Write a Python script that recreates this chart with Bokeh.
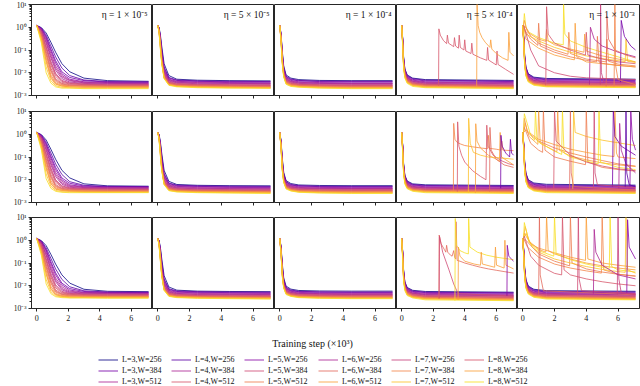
from bokeh.plotting import figure
from bokeh.layouts import column, row
from bokeh.models import (Label, Legend, LegendItem, CustomJSTickFormatter,
                          FixedTicker, Range1d, ColumnDataSource)
from bokeh.palettes import Plasma256
from bokeh.embed import file_html
from bokeh.resources import INLINE

# ---------------------------------------------------------------- data
LAYERS = [3, 4, 5, 6, 7, 8]
WIDTHS = [256, 384, 512]
CONFIGS = [f"L={l},W={w}" for l in LAYERS for w in WIDTHS]
PRECISIONS = ["FP32 MSE loss", "MX FP8 MSE loss", "MX FP6 E2M3 MSE loss"]
LEARNING_RATES = ["η = 1 × 10⁻⁵", "η = 5 × 10⁻⁵", "η = 1 × 10⁻⁴",
                  "η = 5 × 10⁻⁴", "η = 1 × 10⁻³"]
X_LABEL = "Training step (×10³)"
X_TICKS = [0, 2, 4, 6]
Y_TICKS = [1e-3, 1e-2, 1e-1, 1e0, 1e1]

# the run of each row of every loss table below (highest final loss first)
RUN_CONFIG = ["L=3,W=256", "L=4,W=256", "L=5,W=256", "L=3,W=384", "L=3,W=512", "L=6,W=256",
              "L=4,W=384", "L=7,W=256", "L=4,W=512", "L=5,W=384", "L=8,W=256", "L=5,W=512",
              "L=6,W=384", "L=7,W=384", "L=8,W=384", "L=6,W=512", "L=7,W=512", "L=8,W=512"]

STEPS_SLOW = [0, 0.3, 0.6, 0.9, 1.2, 1.6, 2.1, 3.0, 4.5, 7.1]
STEPS_FAST = [0, 0.08, 0.16, 0.25, 0.4, 0.7, 1.2, 2.5, 4.5, 7.1]
STEPS_DROP = [0, 0.06, 0.12, 0.2, 0.35, 0.7, 1.5, 7.1]

FP32_LR1E5 = [
    [1.2, .96, .56, .22, .08, .025, .011, .0058, .0045, .0042],
    [1.2, .92, .45, .15, .05, .016, .0075, .0048, .0041, .0040],
    [1.2, .85, .33, .09, .027, .009, .0052, .0040, .0037, .0036],
    [1.2, .88, .38, .11, .034, .011, .0062, .0045, .0039, .0038],
    [1.2, .8, .28, .07, .02, .0075, .0047, .0038, .0035, .0034],
    [1.2, .72, .2, .045, .013, .0055, .0039, .0034, .0032, .0031],
    [1.2, .75, .23, .055, .016, .0065, .0044, .0036, .0034, .0033],
    [1.2, .65, .15, .032, .0095, .0046, .0036, .0032, .0030, .0030],
    [1.2, .58, .11, .022, .007, .0038, .0032, .0030, .0028, .0028],
    [1.2, .6, .13, .027, .0085, .0042, .0034, .0031, .0029, .0029],
    [1.2, .5, .085, .016, .0055, .0034, .0030, .0028, .0027, .0027],
    [1.2, .42, .06, .011, .0042, .0030, .0027, .0026, .0025, .0025],
    [1.2, .45, .07, .013, .0048, .0032, .0028, .0027, .0026, .0026],
    [1.2, .36, .045, .008, .0036, .0028, .0026, .0025, .0024, .0024],
    [1.2, .3, .03, .0058, .0031, .0026, .0024, .0023, .0023, .0023],
    [1.2, .32, .035, .0065, .0033, .0026, .0024, .0023, .0023, .0023],
    [1.2, .25, .018, .0045, .0027, .0023, .0022, .0021, .0021, .0021],
    [1.2, .2, .01, .0035, .0024, .0021, .0021, .0020, .0020, .0020],
]
MXFP8_LR1E5 = [
    [1.2, .96, .56, .22, .08, .026, .012, .0066, .0054, .0052],
    [1.2, .92, .45, .15, .05, .017, .0082, .0057, .0051, .0050],
    [1.2, .85, .33, .09, .028, .010, .0060, .0049, .0047, .0046],
    [1.2, .88, .38, .11, .035, .012, .0070, .0053, .0049, .0048],
    [1.2, .8, .28, .07, .021, .0085, .0055, .0047, .0045, .0044],
    [1.2, .72, .2, .045, .014, .0063, .0047, .0042, .0041, .0040],
    [1.2, .75, .23, .055, .017, .0072, .0051, .0045, .0043, .0042],
    [1.2, .65, .15, .033, .010, .0054, .0044, .0041, .0040, .0039],
    [1.2, .58, .11, .023, .0078, .0046, .0040, .0037, .0036, .0036],
    [1.2, .6, .13, .028, .0092, .0050, .0042, .0039, .0038, .0037],
    [1.2, .5, .085, .017, .0062, .0042, .0038, .0036, .0035, .0035],
    [1.2, .42, .06, .012, .0050, .0038, .0034, .0033, .0032, .0032],
    [1.2, .45, .07, .014, .0055, .0040, .0036, .0035, .0034, .0034],
    [1.2, .36, .045, .009, .0044, .0036, .0033, .0032, .0031, .0031],
    [1.2, .3, .03, .0066, .0038, .0033, .0031, .0030, .0029, .0029],
    [1.2, .32, .035, .0072, .0040, .0034, .0032, .0031, .0030, .0030],
    [1.2, .25, .018, .0052, .0034, .0030, .0029, .0028, .0028, .0028],
    [1.2, .2, .011, .0042, .0031, .0028, .0027, .0027, .0027, .0027],
]
MXFP6_LR1E5 = [
    [1.2, .96, .58, .24, .09, .03, .013, .007, .0057, .0055],
    [1.2, .92, .46, .16, .055, .019, .009, .0060, .0053, .0052],
    [1.2, .86, .34, .095, .03, .011, .0065, .0051, .0049, .0048],
    [1.2, .88, .39, .115, .037, .013, .0075, .0056, .0051, .0050],
    [1.2, .8, .29, .073, .022, .0090, .0058, .0049, .0047, .0046],
    [1.2, .73, .21, .047, .015, .0066, .0049, .0044, .0043, .0042],
    [1.2, .76, .24, .057, .018, .0075, .0053, .0047, .0045, .0044],
    [1.2, .66, .16, .035, .011, .0057, .0046, .0043, .0042, .0041],
    [1.2, .59, .12, .024, .0082, .0048, .0042, .0039, .0038, .0038],
    [1.2, .61, .135, .029, .0096, .0052, .0044, .0041, .0040, .0039],
    [1.2, .51, .09, .018, .0066, .0044, .0040, .0038, .0037, .0036],
    [1.2, .43, .062, .013, .0053, .0040, .0036, .0035, .0034, .0034],
    [1.2, .46, .072, .015, .0058, .0042, .0038, .0036, .0035, .0035],
    [1.2, .37, .047, .0095, .0046, .0037, .0035, .0034, .0033, .0033],
    [1.2, .31, .032, .007, .0040, .0034, .0032, .0031, .0031, .0031],
    [1.2, .33, .036, .0076, .0042, .0035, .0033, .0032, .0032, .0032],
    [1.2, .26, .019, .0055, .0036, .0032, .0030, .0030, .0030, .0030],
    [1.2, .21, .012, .0045, .0033, .0030, .0029, .0029, .0028, .0028],
]

FP32_LR5E5 = [
    [1.2, 1.0, .5, .15, .025, .0075, .0052, .0047, .0045, .0044],
    [1.2, .95, .42, .11, .018, .0062, .0048, .0044, .0042, .0041],
    [1.2, .9, .35, .08, .013, .0052, .0042, .0039, .0037, .0036],
    [1.2, .92, .38, .095, .016, .0058, .0046, .0042, .0040, .0039],
    [1.2, .88, .32, .07, .012, .0049, .0040, .0037, .0035, .0034],
    [1.2, .85, .28, .055, .0095, .0043, .0036, .0033, .0032, .0031],
    [1.2, .86, .3, .06, .011, .0046, .0038, .0035, .0034, .0033],
    [1.2, .82, .26, .048, .0088, .0040, .0034, .0031, .0030, .0029],
    [1.2, .78, .23, .042, .0078, .0037, .0031, .0029, .0028, .0027],
    [1.2, .8, .24, .045, .0082, .0038, .0032, .0030, .0029, .0028],
    [1.2, .76, .21, .038, .0072, .0035, .0030, .0028, .0027, .0026],
    [1.2, .72, .18, .034, .0066, .0032, .0028, .0026, .0025, .0024],
    [1.2, .74, .2, .036, .0069, .0034, .0029, .0027, .0026, .0025],
    [1.2, .7, .17, .032, .0063, .0031, .0027, .0025, .0024, .0023],
    [1.2, .66, .15, .029, .0060, .0030, .0026, .0024, .0023, .0022],
    [1.2, .68, .16, .03, .0061, .0030, .0026, .0024, .0023, .0022],
    [1.2, .63, .13, .027, .0057, .0029, .0025, .0023, .0022, .0021],
    [1.2, .6, .12, .025, .0055, .0028, .0024, .0022, .0021, .0021],
]
MXFP8_LR5E5 = [
    [1.2, 1.0, .5, .15, .026, .0085, .0062, .0057, .0055, .0054],
    [1.2, .95, .42, .11, .019, .0072, .0058, .0054, .0052, .0051],
    [1.2, .9, .35, .08, .014, .0062, .0051, .0048, .0046, .0045],
    [1.2, .92, .38, .095, .017, .0068, .0055, .0051, .0049, .0048],
    [1.2, .88, .32, .07, .013, .0058, .0048, .0045, .0043, .0042],
    [1.2, .85, .28, .055, .010, .0051, .0043, .0040, .0039, .0038],
    [1.2, .86, .3, .06, .012, .0054, .0045, .0042, .0041, .0040],
    [1.2, .82, .26, .048, .0095, .0048, .0041, .0038, .0037, .0036],
    [1.2, .78, .23, .042, .0085, .0044, .0038, .0035, .0034, .0033],
    [1.2, .8, .24, .045, .0089, .0046, .0039, .0036, .0035, .0034],
    [1.2, .76, .21, .038, .0079, .0042, .0036, .0034, .0033, .0032],
    [1.2, .72, .18, .034, .0072, .0039, .0034, .0032, .0031, .0030],
    [1.2, .74, .2, .036, .0075, .0040, .0035, .0033, .0032, .0031],
    [1.2, .7, .17, .032, .0069, .0037, .0033, .0031, .0030, .0029],
    [1.2, .66, .15, .029, .0065, .0035, .0031, .0029, .0028, .0027],
    [1.2, .68, .16, .03, .0067, .0036, .0032, .0030, .0029, .0028],
    [1.2, .63, .13, .027, .0062, .0034, .0030, .0028, .0027, .0026],
    [1.2, .6, .12, .025, .0060, .0033, .0029, .0027, .0026, .0025],
]
MXFP6_LR5E5 = [
    [1.2, 1.0, .52, .16, .028, .0088, .0064, .0058, .0056, .0055],
    [1.2, .96, .43, .115, .02, .0074, .0059, .0055, .0053, .0052],
    [1.2, .9, .36, .082, .015, .0063, .0052, .0049, .0047, .0046],
    [1.2, .93, .39, .097, .018, .0069, .0056, .0052, .0050, .0049],
    [1.2, .88, .33, .072, .013, .0059, .0049, .0046, .0044, .0043],
    [1.2, .85, .29, .057, .011, .0052, .0044, .0041, .0040, .0039],
    [1.2, .87, .31, .062, .012, .0055, .0046, .0043, .0042, .0041],
    [1.2, .82, .27, .05, .0098, .0049, .0042, .0039, .0038, .0037],
    [1.2, .79, .24, .043, .0087, .0045, .0039, .0036, .0035, .0034],
    [1.2, .8, .25, .046, .0091, .0047, .0040, .0037, .0036, .0035],
    [1.2, .77, .22, .039, .0081, .0043, .0037, .0035, .0034, .0033],
    [1.2, .73, .19, .035, .0074, .0040, .0035, .0033, .0032, .0031],
    [1.2, .75, .21, .037, .0077, .0041, .0036, .0034, .0033, .0032],
    [1.2, .71, .18, .033, .0071, .0038, .0034, .0032, .0031, .0030],
    [1.2, .67, .16, .03, .0067, .0036, .0032, .0030, .0029, .0028],
    [1.2, .69, .17, .031, .0069, .0037, .0033, .0031, .0030, .0029],
    [1.2, .64, .14, .028, .0064, .0035, .0031, .0029, .0028, .0027],
    [1.2, .61, .13, .026, .0062, .0034, .0030, .0028, .0027, .0026],
]

FP32_LR1E4 = [
    [1.2, .55, .09, .02, .008, .0058, .005, .0046, .0045, .0045],
    [1.2, .5, .075, .017, .007, .0053, .0046, .0043, .0042, .0042],
    [1.2, .45, .06, .014, .006, .0046, .0040, .0037, .0036, .0036],
    [1.2, .48, .068, .016, .0066, .005, .0044, .0041, .0040, .0040],
    [1.2, .43, .055, .013, .0056, .0043, .0038, .0035, .0034, .0034],
    [1.2, .4, .048, .011, .005, .0039, .0034, .0032, .0031, .0031],
    [1.2, .41, .05, .012, .0053, .0041, .0036, .0034, .0033, .0033],
    [1.2, .38, .044, .010, .0047, .0037, .0032, .0030, .0029, .0029],
    [1.2, .35, .04, .0095, .0043, .0034, .0030, .0028, .0027, .0027],
    [1.2, .36, .042, .0098, .0045, .0035, .0031, .0029, .0028, .0028],
    [1.2, .33, .037, .009, .0041, .0032, .0029, .0027, .0026, .0026],
    [1.2, .3, .033, .0082, .0038, .0030, .0027, .0025, .0024, .0024],
    [1.2, .31, .035, .0085, .0039, .0031, .0028, .0026, .0025, .0025],
    [1.2, .29, .031, .0078, .0036, .0029, .0026, .0024, .0023, .0023],
    [1.2, .27, .028, .0072, .0034, .0028, .0025, .0023, .0022, .0022],
    [1.2, .28, .029, .0074, .0035, .0028, .0025, .0023, .0022, .0022],
    [1.2, .26, .026, .0068, .0032, .0026, .0024, .0022, .0021, .0021],
    [1.2, .24, .024, .0064, .0031, .0025, .0023, .0021, .0020, .0020],
]
MXFP8_LR1E4 = [
    [1.2, .55, .09, .021, .0092, .0068, .0059, .0056, .0055, .0055],
    [1.2, .5, .075, .018, .0082, .0062, .0055, .0052, .0051, .0051],
    [1.2, .45, .06, .015, .0071, .0055, .0049, .0046, .0045, .0045],
    [1.2, .48, .068, .017, .0077, .0059, .0053, .0050, .0049, .0049],
    [1.2, .43, .055, .014, .0066, .0052, .0046, .0043, .0042, .0042],
    [1.2, .4, .048, .012, .0060, .0047, .0042, .0040, .0039, .0039],
    [1.2, .41, .05, .013, .0063, .0049, .0044, .0042, .0041, .0041],
    [1.2, .38, .044, .011, .0057, .0045, .0040, .0038, .0037, .0037],
    [1.2, .35, .04, .0105, .0053, .0042, .0037, .0035, .0034, .0034],
    [1.2, .36, .042, .0108, .0055, .0043, .0038, .0036, .0035, .0035],
    [1.2, .33, .037, .010, .0051, .0040, .0036, .0034, .0033, .0033],
    [1.2, .3, .033, .0092, .0047, .0037, .0033, .0031, .0030, .0030],
    [1.2, .31, .035, .0095, .0049, .0038, .0034, .0032, .0031, .0031],
    [1.2, .29, .031, .0088, .0045, .0036, .0032, .0030, .0029, .0029],
    [1.2, .27, .028, .0082, .0043, .0034, .0030, .0028, .0027, .0027],
    [1.2, .28, .029, .0084, .0044, .0035, .0031, .0029, .0028, .0028],
    [1.2, .26, .026, .0078, .0041, .0033, .0029, .0027, .0026, .0026],
    [1.2, .24, .024, .0074, .0039, .0032, .0028, .0026, .0025, .0025],
]
MXFP6_LR1E4 = [
    [1.2, .56, .095, .022, .0096, .0071, .0062, .0059, .0058, .0058],
    [1.2, .51, .078, .019, .0085, .0065, .0057, .0054, .0053, .0053],
    [1.2, .46, .062, .016, .0074, .0057, .0051, .0048, .0047, .0047],
    [1.2, .49, .07, .0175, .0080, .0061, .0055, .0052, .0051, .0051],
    [1.2, .44, .057, .0145, .0069, .0054, .0048, .0045, .0044, .0044],
    [1.2, .41, .05, .0125, .0062, .0049, .0044, .0042, .0041, .0041],
    [1.2, .42, .052, .0135, .0065, .0051, .0046, .0044, .0043, .0043],
    [1.2, .39, .046, .0115, .0059, .0047, .0042, .0040, .0039, .0039],
    [1.2, .36, .041, .011, .0055, .0044, .0039, .0037, .0036, .0036],
    [1.2, .37, .043, .0112, .0057, .0045, .0040, .0038, .0037, .0037],
    [1.2, .34, .038, .0104, .0053, .0042, .0038, .0036, .0035, .0035],
    [1.2, .31, .034, .0095, .0049, .0039, .0035, .0033, .0032, .0032],
    [1.2, .32, .036, .0098, .0051, .0040, .0036, .0034, .0033, .0033],
    [1.2, .3, .032, .0091, .0047, .0038, .0034, .0032, .0031, .0031],
    [1.2, .28, .029, .0085, .0045, .0036, .0032, .0030, .0029, .0029],
    [1.2, .29, .030, .0087, .0046, .0037, .0033, .0031, .0030, .0030],
    [1.2, .27, .027, .0081, .0043, .0035, .0031, .0029, .0028, .0028],
    [1.2, .25, .025, .0077, .0041, .0034, .0030, .0028, .0027, .0027],
]

FP32_LR5E4 = [
    [1.2, .35, .05, .015, .0080, .0058, .0050, .0046],
    [1.2, .33, .046, .014, .0075, .0055, .0047, .0043],
    [1.2, .3, .04, .012, .0065, .0047, .0040, .0037],
    [1.2, .32, .044, .013, .0070, .0051, .0044, .0041],
    [1.2, .29, .038, .0115, .0062, .0044, .0038, .0035],
    [1.2, .27, .034, .0105, .0056, .0040, .0034, .0031],
    [1.2, .28, .036, .011, .0059, .0042, .0036, .0033],
    [1.2, .26, .032, .010, .0053, .0038, .0032, .0029],
    [1.2, .24, .029, .0092, .0049, .0035, .0030, .0027],
    [1.2, .25, .030, .0095, .0051, .0036, .0031, .0028],
    [1.2, .23, .027, .0088, .0047, .0033, .0029, .0026],
    [1.2, .21, .024, .0080, .0043, .0031, .0027, .0024],
    [1.2, .22, .025, .0083, .0044, .0032, .0028, .0025],
    [1.2, .2, .022, .0076, .0041, .0030, .0026, .0023],
    [1.2, .18, .02, .0070, .0038, .0028, .0024, .0022],
    [1.2, .19, .021, .0072, .0039, .0029, .0025, .0022],
    [1.2, .17, .018, .0064, .0036, .0027, .0023, .0021],
    [1.2, .15, .016, .0058, .0034, .0025, .0022, .0020],
]
MXFP8_LR5E4 = [
    [1.2, .36, .052, .016, .0088, .0066, .0060, .0056],
    [1.2, .34, .048, .015, .0083, .0062, .0056, .0053],
    [1.2, .31, .042, .013, .0072, .0055, .0049, .0046],
    [1.2, .33, .046, .014, .0078, .0059, .0053, .0050],
    [1.2, .3, .04, .0122, .0068, .0051, .0046, .0043],
    [1.2, .28, .036, .0112, .0062, .0047, .0042, .0039],
    [1.2, .29, .038, .0117, .0065, .0049, .0044, .0041],
    [1.2, .27, .034, .0107, .0059, .0045, .0040, .0037],
    [1.2, .25, .031, .0098, .0055, .0042, .0037, .0034],
    [1.2, .26, .032, .0101, .0057, .0043, .0038, .0035],
    [1.2, .24, .029, .0094, .0053, .0040, .0036, .0033],
    [1.2, .22, .026, .0086, .0049, .0037, .0033, .0030],
    [1.2, .23, .027, .0089, .0050, .0038, .0034, .0031],
    [1.2, .21, .024, .0082, .0047, .0036, .0032, .0029],
    [1.2, .19, .022, .0076, .0044, .0034, .0030, .0027],
    [1.2, .2, .023, .0078, .0045, .0035, .0031, .0028],
    [1.2, .18, .020, .0070, .0042, .0033, .0029, .0026],
    [1.2, .16, .018, .0064, .0040, .0031, .0027, .0025],
]
MXFP6_LR5E4 = [
    [1.2, .35, .05, .015, .0084, .0063, .0056, .0052],
    [1.2, .33, .046, .014, .0079, .0059, .0052, .0049],
    [1.2, .3, .04, .0124, .0069, .0052, .0046, .0043],
    [1.2, .32, .044, .0133, .0074, .0056, .0050, .0047],
    [1.2, .29, .038, .0116, .0065, .0049, .0043, .0040],
    [1.2, .27, .034, .0106, .0059, .0045, .0039, .0036],
    [1.2, .28, .036, .0111, .0062, .0047, .0041, .0038],
    [1.2, .26, .032, .0101, .0056, .0043, .0037, .0034],
    [1.2, .24, .029, .0093, .0052, .0040, .0034, .0031],
    [1.2, .25, .030, .0096, .0054, .0041, .0035, .0032],
    [1.2, .23, .027, .0089, .0050, .0038, .0033, .0030],
    [1.2, .21, .024, .0082, .0046, .0035, .0030, .0027],
    [1.2, .22, .025, .0085, .0047, .0036, .0031, .0028],
    [1.2, .2, .022, .0078, .0044, .0034, .0029, .0026],
    [1.2, .18, .020, .0072, .0041, .0032, .0027, .0024],
    [1.2, .19, .021, .0074, .0042, .0033, .0028, .0025],
    [1.2, .17, .018, .0066, .0039, .0031, .0026, .0023],
    [1.2, .15, .016, .0060, .0037, .0029, .0024, .0022],
]

FP32_LR1E3 = [
    [1.2, .4, .06, .018, .009, .0064, .0056, .0052],
    [1.2, .38, .055, .017, .0085, .0060, .0052, .0048],
    [1.2, .34, .047, .014, .0073, .0052, .0045, .0041],
    [1.2, .36, .051, .0155, .0079, .0056, .0049, .0045],
    [1.2, .32, .044, .0132, .0068, .0048, .0042, .0038],
    [1.2, .3, .040, .0122, .0062, .0044, .0038, .0034],
    [1.2, .31, .042, .0127, .0065, .0046, .0040, .0036],
    [1.2, .29, .037, .0115, .0059, .0042, .0036, .0032],
    [1.2, .27, .034, .0106, .0055, .0039, .0033, .0030],
    [1.2, .28, .035, .0110, .0057, .0040, .0034, .0031],
    [1.2, .26, .032, .0101, .0052, .0037, .0032, .0029],
    [1.2, .24, .029, .0093, .0048, .0034, .0029, .0026],
    [1.2, .25, .030, .0096, .0050, .0035, .0030, .0027],
    [1.2, .23, .027, .0089, .0046, .0033, .0028, .0025],
    [1.2, .21, .025, .0082, .0043, .0031, .0026, .0024],
    [1.2, .22, .026, .0085, .0044, .0032, .0027, .0024],
    [1.2, .2, .023, .0077, .0041, .0030, .0025, .0023],
    [1.2, .18, .021, .0071, .0039, .0028, .0024, .0022],
]
MXFP8_LR1E3 = [
    [1.2, .42, .065, .02, .0100, .0072, .0063, .0058],
    [1.2, .4, .06, .018, .0094, .0067, .0058, .0054],
    [1.2, .36, .051, .0155, .0081, .0058, .0050, .0046],
    [1.2, .38, .055, .017, .0087, .0062, .0054, .0050],
    [1.2, .34, .047, .0145, .0075, .0054, .0047, .0043],
    [1.2, .32, .043, .0134, .0069, .0049, .0043, .0039],
    [1.2, .33, .045, .0139, .0072, .0051, .0045, .0041],
    [1.2, .31, .040, .0126, .0065, .0047, .0041, .0037],
    [1.2, .29, .037, .0117, .0061, .0044, .0038, .0034],
    [1.2, .3, .038, .0121, .0063, .0045, .0039, .0035],
    [1.2, .28, .035, .0111, .0058, .0042, .0036, .0033],
    [1.2, .26, .032, .0102, .0054, .0039, .0033, .0030],
    [1.2, .27, .033, .0105, .0056, .0040, .0034, .0031],
    [1.2, .25, .030, .0098, .0052, .0038, .0032, .0029],
    [1.2, .23, .027, .0090, .0048, .0035, .0030, .0027],
    [1.2, .24, .028, .0093, .0049, .0036, .0031, .0028],
    [1.2, .22, .025, .0085, .0046, .0034, .0029, .0026],
    [1.2, .2, .023, .0078, .0044, .0032, .0027, .0025],
]
MXFP6_LR1E3 = [
    [1.2, .41, .063, .019, .0097, .0070, .0061, .0057],
    [1.2, .39, .058, .0175, .0091, .0065, .0057, .0053],
    [1.2, .35, .05, .015, .0079, .0057, .0049, .0045],
    [1.2, .37, .054, .0165, .0085, .0061, .0053, .0049],
    [1.2, .33, .046, .014, .0073, .0053, .0046, .0042],
    [1.2, .31, .042, .013, .0067, .0048, .0042, .0038],
    [1.2, .32, .044, .0135, .0070, .0050, .0044, .0040],
    [1.2, .3, .039, .0122, .0064, .0046, .0040, .0036],
    [1.2, .28, .036, .0113, .0060, .0043, .0037, .0033],
    [1.2, .29, .037, .0117, .0062, .0044, .0038, .0034],
    [1.2, .27, .034, .0108, .0057, .0041, .0035, .0032],
    [1.2, .25, .031, .0099, .0053, .0038, .0032, .0029],
    [1.2, .26, .032, .0102, .0055, .0039, .0033, .0030],
    [1.2, .24, .029, .0095, .0051, .0037, .0031, .0028],
    [1.2, .22, .026, .0088, .0047, .0034, .0029, .0026],
    [1.2, .23, .027, .0091, .0048, .0035, .0030, .0027],
    [1.2, .21, .024, .0083, .0045, .0033, .0028, .0025],
    [1.2, .19, .022, .0076, .0043, .0031, .0026, .0024],
]

# diverging runs: (config, [(step, loss), ...])
FP32_LR5E4_DIVERGED = [
    ("L=8,W=256", [(2.34, .0027), (2.36, .85), (2.45, .45), (2.65, .26), (2.85, .19), (2.9, .45),
                   (2.97, .2), (3.3, .14), (3.35, .35), (3.42, .15), (3.6, .12), (3.65, .45),
                   (3.72, .13), (3.95, .1), (4.0, .28), (4.07, .09), (4.4, .07), (4.45, .2),
                   (4.52, .065), (5.0, .045), (5.4, .035), (5.45, .13), (5.52, .036), (6.0, .022),
                   (6.05, .09), (6.12, .023), (6.6, .014), (7.1, .0085)]),
    ("L=8,W=384", [(4.76, .0024), (4.78, 15.0), (4.85, 1.2), (4.95, .6), (5.1, .35), (5.3, .22),
                   (5.6, .13), (5.65, .28), (5.72, .11), (6.0, .07), (6.4, .045), (6.75, .035),
                   (6.8, .6), (6.87, .08), (7.1, .055)]),
]
MXFP8_LR5E4_DIVERGED = [
    ("L=7,W=384", [(3.28, .0032), (3.3, 3.0), (3.38, .6), (3.5, .45), (3.7, .38), (4.0, .32),
                   (4.5, .28), (5.0, .25), (5.45, .23), (5.5, .9), (5.57, .24), (6.0, .22),
                   (6.3, .2), (6.35, .5), (6.42, .2), (7.1, .19)]),
    ("L=8,W=256", [(3.53, .003), (3.55, 3.5), (3.63, .3), (3.8, .12), (4.0, .06), (4.5, .025),
                   (5.0, .014), (5.35, .01), (5.4, 2.5), (5.48, .3), (5.8, .12), (6.3, .07),
                   (6.8, .05), (7.1, .045)]),
    ("L=7,W=512", [(4.23, .0026), (4.25, 5.0), (4.35, .4), (4.55, .16), (5.0, .12), (5.5, .1),
                   (6.0, .095), (6.5, .088), (7.1, .08)]),
    ("L=6,W=512", [(4.68, .0026), (4.7, 2.9), (4.78, .5), (5.0, .25), (5.5, .12), (6.0, .08),
                   (6.2, .065), (6.25, 1.2), (6.33, .1), (7.1, .045)]),
    ("L=3,W=384", [(6.28, .0042), (6.3, .9), (6.38, .3), (6.6, .15), (6.85, .1), (6.9, .6),
                   (6.97, .15), (7.1, .12)]),
    ("L=6,W=384", [(5.58, .003), (5.6, 2.0), (5.68, .2), (6.0, .08), (6.5, .045), (7.1, .035)]),
]
MXFP6_LR5E4_DIVERGED = [
    ("L=6,W=384", [(2.36, .0027), (2.38, 1.7), (2.5, .7), (2.7, .4), (2.8, .3), (2.85, .6),
                   (2.92, .3), (3.1, .22), (3.2, .2), (3.3, .35), (3.37, .17), (3.43, .15),
                   (3.45, 6.5), (3.52, .13), (3.7, .12), (4.0, .1), (4.5, .08), (5.0, .065),
                   (5.5, .055), (6.0, .048), (6.5, .042), (7.1, .036)]),
    ("L=5,W=384", [(2.38, .0028), (2.4, 1.5), (2.6, .3), (3.0, .05), (3.3, .012), (3.5, .006),
                   (3.6, .0045), (7.1, .0035)]),
    ("L=8,W=512", [(3.38, .0022), (3.4, 9.0), (3.48, .6), (3.7, .35), (4.0, .28), (4.23, .25),
                   (4.25, 9.0), (4.33, .5), (4.8, .3), (5.4, .22), (6.0, .18), (6.5, .16),
                   (7.1, .14)]),
    ("L=6,W=512", [(3.58, .0024), (3.6, .5), (3.7, .2), (4.0, .12), (4.6, .09), (5.0, .08),
                   (5.05, .3), (5.12, .09), (5.9, .065), (5.95, .5), (6.02, .08), (6.5, .06),
                   (6.55, 1.0), (6.62, .08), (7.1, .055)]),
    ("L=5,W=256", [(6.68, .0036), (6.7, .6), (6.8, .2), (7.0, .14), (7.1, .12)]),
]
FP32_LR1E3_DIVERGED = [
    ("L=8,W=512", [(0.05, 1.2), (0.1, 4.0), (0.2, 1.0), (0.4, .6), (1.0, .35), (2.0, .2),
                   (2.55, .17), (2.57, 12.0), (2.65, .5), (3.0, .25), (4.0, .13), (5.0, .08),
                   (6.0, .05), (7.1, .03)]),
    ("L=8,W=384", [(0.05, 1.2), (0.1, 2.0), (0.3, .6), (1.0, .3), (1.45, .24), (1.5, .8), (1.6, .25),
                   (2.0, .17), (3.0, .11), (3.85, .08), (3.9, .5), (4.0, .09), (5.0, .055),
                   (6.0, .04), (7.1, .03)]),
    ("L=7,W=384", [(0.05, 1.2), (0.2, 1.0), (0.5, .4), (1.0, .2), (2.0, .1), (2.85, .065), (2.9, .6),
                   (3.0, .07), (4.0, .04), (5.25, .03), (5.3, .3), (5.4, .032), (6.0, .024),
                   (7.1, .02)]),
    ("L=5,W=512", [(0.05, 1.2), (0.15, .7), (0.5, .3), (0.95, .16), (1.0, 1.5), (1.1, .15),
                   (2.0, .08), (3.0, .05), (4.0, .035), (4.65, .03), (4.7, .4), (4.8, .03),
                   (5.0, .026), (6.0, .021), (7.1, .018)]),
    ("L=7,W=512", [(0.05, 1.2), (0.2, .5), (1.0, .25), (2.0, .13), (3.0, .08), (4.0, .055),
                   (5.0, .042), (6.0, .034), (6.45, .031), (6.5, .3), (6.6, .032), (7.1, .028)]),
    ("L=8,W=256", [(1.45, .0028), (1.5, 8.0), (1.6, .5), (2.0, .2), (3.0, .1), (3.95, .06),
                   (4.0, .6), (4.1, .06), (5.0, .04), (6.0, .03), (7.1, .025)]),
    ("L=6,W=256", [(4.2, .003), (4.26, 1.0), (4.5, .3), (5.0, .15), (6.0, .08), (7.1, .05)]),
    ("L=3,W=384", [(6.15, .0035), (6.2, 2.0), (6.4, .4), (6.8, .15), (7.1, .1)]),
    ("L=6,W=512", [(0.05, 1.2), (0.2, .3), (1.0, .12), (2.0, .06), (3.0, .04), (3.25, .037),
                   (3.3, 1.5), (3.4, .05), (4.0, .03), (5.0, .025), (6.0, .021), (7.1, .018)]),
    ("L=6,W=384", [(5.25, .0025), (5.3, 3.0), (5.4, .3), (5.8, .1), (6.5, .06), (7.1, .045)]),
    ("L=5,W=384", [(0.05, 1.2), (0.1, 1.0), (0.5, .1), (1.0, .02), (2.0, .01), (3.0, .007),
                   (4.0, .006), (7.1, .005)]),
    ("L=7,W=256", [(4.88, .003), (4.9, 12.0), (4.95, .01), (5.1, .004), (7.1, .0035)]),
    ("L=7,W=384", [(5.75, .0025), (5.8, 12.0), (5.85, .02), (6.0, .005), (7.1, .003)]),
]
MXFP8_LR1E3_DIVERGED = [
    ("L=7,W=512", [(3.15, .004), (3.2, 12.0), (3.3, 1.2), (4.0, .8), (5.0, .55), (6.0, .42),
                   (7.1, .32)]),
    ("L=7,W=384", [(0.05, 1.2), (0.1, 5.0), (0.3, 1.2), (1.0, .5), (2.0, .25), (3.0, .15),
                   (4.0, .1), (5.0, .07), (6.0, .05), (7.1, .04)]),
    ("L=6,W=512", [(0.05, 1.2), (0.15, 3.0), (0.4, .8), (0.95, .36), (1.0, 12.0), (1.1, .4),
                   (2.0, .19), (2.15, .17), (2.2, 12.0), (2.3, .2), (3.0, .11), (4.0, .075),
                   (5.0, .055), (6.0, .045), (7.1, .038)]),
    ("L=5,W=512", [(0.05, 1.2), (0.1, 2.0), (0.5, .4), (1.0, .2), (1.25, .16), (1.3, 12.0),
                   (1.4, .2), (2.0, .1), (3.0, .065), (3.95, .046), (4.0, 12.0), (4.1, .06),
                   (5.0, .035), (6.0, .028), (7.1, .024)]),
    ("L=8,W=384", [(0.05, 1.2), (0.2, 1.5), (1.0, .6), (2.0, .35), (3.0, .22), (4.0, .16),
                   (5.0, .12), (5.75, .105), (5.8, 12.0), (5.9, .15), (6.0, .1), (7.1, .085)]),
    ("L=8,W=512", [(0.05, 1.2), (0.1, 8.0), (0.5, .9), (0.75, .55), (0.8, 12.0), (0.9, .5),
                   (2.0, .18), (2.45, .13), (2.5, 12.0), (2.6, .15), (3.0, .1), (4.0, .065),
                   (4.75, .05), (4.8, 12.0), (4.9, .06), (6.0, .035), (7.1, .028)]),
    ("L=8,W=256", [(1.95, .004), (2.0, 12.0), (2.1, .5), (3.0, .12), (4.0, .06), (5.0, .04),
                   (6.0, .03), (7.1, .025)]),
    ("L=3,W=384", [(5.65, .005), (5.7, 12.0), (5.8, .8), (6.2, .3), (7.1, .12)]),
    ("L=5,W=256", [(6.75, .005), (6.8, 12.0), (6.9, .6), (7.1, .2)]),
    ("L=6,W=256", [(6.05, .004), (6.1, 3.0), (6.2, .2), (6.5, .05), (7.1, .02)]),
    ("L=6,W=384", [(2.95, .0035), (3.0, 12.0), (3.05, .02), (3.2, .005), (7.1, .0035)]),
    ("L=5,W=384", [(4.45, .004), (4.5, 12.0), (4.55, .02), (4.7, .006), (7.1, .0045)]),
    ("L=4,W=256", [(6.45, .005), (6.5, 12.0), (6.55, .02), (6.7, .006), (7.1, .005)]),
]
MXFP6_LR1E3_DIVERGED = [
    ("L=6,W=512", [(0.05, 1.2), (0.15, 4.0), (0.4, .9), (1.0, .4), (1.45, .3), (1.5, 12.0),
                   (1.6, .35), (2.0, .25), (3.0, .15), (4.0, .1), (5.0, .075), (6.0, .06),
                   (7.1, .05)]),
    ("L=5,W=512", [(0.05, 1.2), (0.2, 1.0), (1.0, .25), (2.0, .12), (2.95, .075), (3.0, 12.0),
                   (3.1, .1), (4.0, .055), (5.0, .04), (6.0, .032), (7.1, .026)]),
    ("L=8,W=384", [(0.05, 1.2), (0.1, 2.0), (0.5, .7), (1.0, .45), (2.0, .28), (3.0, .18),
                   (3.95, .13), (4.0, 12.0), (4.1, .15), (5.0, .1), (6.0, .08), (7.1, .065)]),
    ("L=7,W=384", [(0.05, 1.2), (0.3, .5), (1.0, .18), (2.0, .09), (3.0, .06), (4.0, .045),
                   (4.95, .036), (5.0, 12.0), (5.1, .05), (6.0, .032), (7.1, .027)]),
    ("L=8,W=512", [(0.05, 1.2), (0.1, 6.0), (0.4, .8), (1.0, .35), (1.95, .2), (2.0, 12.0),
                   (2.1, .25), (3.0, .14), (4.0, .09), (5.0, .065), (5.45, .058), (5.5, 12.0),
                   (5.6, .07), (6.0, .05), (7.1, .04)]),
    ("L=7,W=512", [(0.05, 1.2), (0.2, 2.0), (0.6, .5), (1.0, .3), (2.0, .15), (3.0, .1),
                   (4.0, .07), (5.0, .052), (6.0, .042), (6.45, .039), (6.5, 12.0), (6.6, .05),
                   (7.1, .036)]),
    ("L=8,W=256", [(0.05, 1.2), (0.1, 1.5), (0.5, .2), (1.0, .08), (2.0, .035), (2.45, .03),
                   (2.5, 12.0), (2.6, .05), (3.0, .03), (4.0, .02), (5.0, .015), (6.0, .012),
                   (7.1, .01)]),
    ("L=6,W=384", [(1.0, .004), (1.05, 12.0), (1.1, .03), (1.3, .006), (7.1, .004)]),
    ("L=5,W=384", [(3.45, .004), (3.5, 12.0), (3.55, .02), (3.7, .006), (7.1, .0045)]),
    ("L=5,W=256", [(6.55, .005), (6.6, 8.0), (6.7, .5), (7.1, .15)]),
    ("L=7,W=256", [(5.95, .004), (6.0, 12.0), (6.05, .02), (6.2, .005), (7.1, .004)]),
    ("L=3,W=512", [(4.45, .0045), (4.5, 3.0), (4.6, .3), (5.0, .08), (6.0, .03), (7.1, .02)]),
]

PANELS = [
    [(STEPS_SLOW, FP32_LR1E5, []), (STEPS_FAST, FP32_LR5E5, []), (STEPS_FAST, FP32_LR1E4, []),
     (STEPS_DROP, FP32_LR5E4, FP32_LR5E4_DIVERGED), (STEPS_DROP, FP32_LR1E3, FP32_LR1E3_DIVERGED)],
    [(STEPS_SLOW, MXFP8_LR1E5, []), (STEPS_FAST, MXFP8_LR5E5, []), (STEPS_FAST, MXFP8_LR1E4, []),
     (STEPS_DROP, MXFP8_LR5E4, MXFP8_LR5E4_DIVERGED), (STEPS_DROP, MXFP8_LR1E3, MXFP8_LR1E3_DIVERGED)],
    [(STEPS_SLOW, MXFP6_LR1E5, []), (STEPS_FAST, MXFP6_LR5E5, []), (STEPS_FAST, MXFP6_LR1E4, []),
     (STEPS_DROP, MXFP6_LR5E4, MXFP6_LR5E4_DIVERGED), (STEPS_DROP, MXFP6_LR1E3, MXFP6_LR1E3_DIVERGED)],
]

# ---------------------------------------------------------------- style
FONT = "Liberation Serif"
DARK = "#262626"
TEXT = "#111111"
# colormap position of each config (grows with L and W), same order as CONFIGS
COLOR_POS = [0.00, 0.24, 0.41, 0.17, 0.41, 0.59, 0.30, 0.55, 0.72,
             0.41, 0.66, 0.83, 0.51, 0.75, 0.92, 0.59, 0.83, 1.00]
COLOR = {cfg: Plasma256[round(pos * 240)] for cfg, pos in zip(CONFIGS, COLOR_POS)}
LINE_ALPHA = 0.8
FRAME_W = [121, 122, 122, 121, 122]
LEFT_BORDER = 31
FRAME_H = 91
ROW_TOP = [4, 8, 7]
ROW_BOTTOM = [8, 8, 18]
MINOR_Y = [m * 10.0 ** e for e in range(-3, 1) for m in range(2, 10)]

SUP_JS = """
const e = Math.round(Math.log10(tick));
const m = {"-": "\u207b", "0": "\u2070", "1": "\u00b9", "2": "\u00b2", "3": "\u00b3",
           "4": "\u2074", "5": "\u2075", "6": "\u2076", "7": "\u2077", "8": "\u2078", "9": "\u2079"};
return "10" + String(e).split("").map((c) => m[c]).join("");
"""


def make_panel(r, c):
    steps, base, diverged = PANELS[r][c]
    left = LEFT_BORDER if c == 0 else 0
    right = 1 if c == 4 else 0
    p = figure(width=FRAME_W[c] + left + right, height=FRAME_H + ROW_TOP[r] + ROW_BOTTOM[r],
               x_range=Range1d(-0.33, 7.35), y_range=Range1d(1e-3, 1e1), y_axis_type="log",
               output_backend="svg", toolbar_location=None,
               min_border_left=left, min_border_right=right,
               min_border_top=ROW_TOP[r], min_border_bottom=ROW_BOTTOM[r])
    p.xgrid.visible = False
    p.ygrid.visible = False
    p.outline_line_color = DARK
    p.outline_line_width = 1
    p.background_fill_color = "white"

    xa = p.xaxis[0]
    xa.axis_line_color = DARK
    xa.major_tick_line_color = DARK
    xa.minor_tick_line_color = DARK
    xa.major_tick_in = 0
    xa.major_tick_out = 3
    xa.minor_tick_in = 0
    xa.minor_tick_out = 3
    if r == 2:
        xa.ticker = FixedTicker(ticks=X_TICKS, minor_ticks=[])
        xa.major_label_standoff = 3
        xa.major_label_text_font = FONT
        xa.major_label_text_color = TEXT
        xa.major_label_text_font_size = "8px"
    else:
        # tick marks only (no labels) on the upper rows
        xa.ticker = FixedTicker(ticks=[], minor_ticks=X_TICKS)

    ya = p.yaxis[0]
    if c == 0:
        ya.ticker = FixedTicker(ticks=Y_TICKS, minor_ticks=MINOR_Y)
        ya.formatter = CustomJSTickFormatter(code=SUP_JS)
        ya.axis_line_color = DARK
        ya.major_tick_line_color = DARK
        ya.minor_tick_line_color = DARK
        ya.major_tick_in = 0
        ya.major_tick_out = 3
        ya.minor_tick_in = 0
        ya.minor_tick_out = 2
        ya.major_label_standoff = 2
        ya.major_label_text_font = FONT
        ya.major_label_text_font_size = "7.5px"
        ya.major_label_text_color = TEXT
        p.add_layout(Label(x=-18, y=FRAME_H / 2, x_units="screen", y_units="screen",
                           text=PRECISIONS[r], angle=90, angle_units="deg",
                           text_align="center", text_baseline="middle",
                           text_font=FONT, text_font_size="8px", text_color=TEXT))
    else:
        ya.visible = False

    src = ColumnDataSource(dict(xs=[steps] * len(base), ys=base,
                                color=[COLOR[cfg] for cfg in RUN_CONFIG]))
    p.multi_line("xs", "ys", source=src, line_color="color", line_alpha=LINE_ALPHA, line_width=1)
    if diverged:
        dsrc = ColumnDataSource(dict(
            xs=[[pt[0] for pt in pts] for _, pts in diverged],
            ys=[[pt[1] for pt in pts] for _, pts in diverged],
            color=[COLOR[cfg] for cfg, _ in diverged]))
        p.multi_line("xs", "ys", source=dsrc, line_color="color", line_alpha=LINE_ALPHA,
                     line_width=1)

    if r == 0:
        p.add_layout(Label(x=FRAME_W[c] - 5, y=FRAME_H - 10, x_units="screen", y_units="screen",
                           text=LEARNING_RATES[c], text_align="right", text_baseline="middle",
                           text_font=FONT, text_font_size="9.5px", text_color=TEXT))
    return p


rows = [row(*[make_panel(r, c) for c in range(5)]) for r in range(3)]

TOTAL_W = sum(FRAME_W) + LEFT_BORDER + 1
LEG_H = 386 - sum(FRAME_H + t + b for t, b in zip(ROW_TOP, ROW_BOTTOM))
leg_fig = figure(width=TOTAL_W, height=LEG_H, x_range=Range1d(0, 1), y_range=Range1d(0, 1),
                 output_backend="svg", toolbar_location=None, min_border=0,
                 outline_line_color=None)
leg_fig.axis.visible = False
leg_fig.grid.visible = False
# legend proxies, drawn outside the visible range
dummies = {cfg: leg_fig.line(x=[-5, -4], y=[-5, -5], line_color=COLOR[cfg], line_alpha=0.65,
                             line_width=1.3) for cfg in CONFIGS}
LEG_X = [98, 171, 244, 318, 391, 464]
for col in range(len(LAYERS)):
    cfgs = CONFIGS[col * 3: col * 3 + 3]
    items = [LegendItem(label=cfg, renderers=[dummies[cfg]]) for cfg in cfgs]
    leg = Legend(items=items, location=(LEG_X[col], -1), orientation="vertical",
                 glyph_width=20, glyph_height=11, label_height=11, label_standoff=4,
                 spacing=0, padding=0, margin=0, border_line_color=None,
                 background_fill_alpha=0, label_text_font=FONT, label_text_font_size="8px",
                 label_text_color=TEXT)
    leg_fig.add_layout(leg)
leg_fig.add_layout(Label(x=312, y=LEG_H - 17, x_units="screen", y_units="screen", text=X_LABEL,
                         text_align="center", text_baseline="middle", text_font=FONT,
                         text_font_size="10px", text_color=TEXT))

layout = column(*rows, leg_fig)
open("out.html", "w").write(file_html(layout, INLINE))
